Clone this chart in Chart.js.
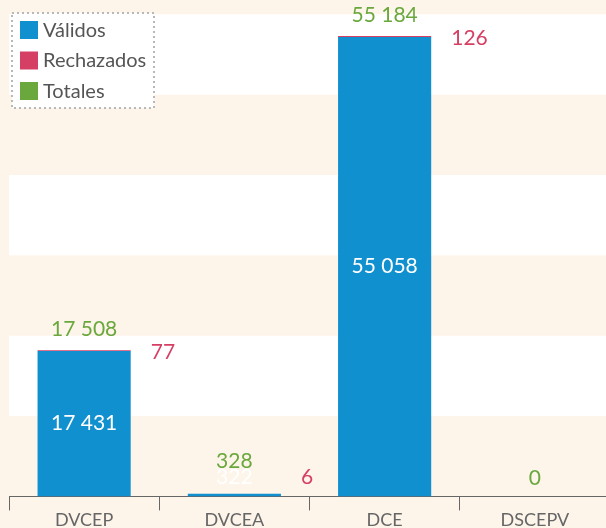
<!DOCTYPE html>
<html>
<head>
<meta charset="utf-8">
<script src="https://cdn.jsdelivr.net/npm/chart.js@4/dist/chart.umd.min.js"></script>
<style>
  html, body { margin: 0; padding: 0; overflow: hidden; background: #fdf4ea; }
  #wrap { width: 610px; height: 530px; }
</style>
</head>
<body>
<div id="wrap"><canvas id="myChart"></canvas></div>
<script>
var categories = ["DVCEP", "DVCEA", "DCE", "DSCEPV"];
var validos = [17431, 322, 55058, 0];
var rechazados = [77, 6, 126, 0];
var totales = [17508, 328, 55184, 0];

var BLUE = '#1190d0';
var RED = '#d63f64';
var GREEN = '#6aa83d';
var BEIGE = '#fdf4ea';
var FONT = 'Lato, "Noto Sans", sans-serif';

function fmt(v) {
  return String(v).replace(/\B(?=(\d{3})+(?!\d))/g, ' ');
}

// background stripes + custom legend + value labels
var decor = {
  id: 'decor',
  beforeDraw: function (chart) {
    var c = chart.ctx, a = chart.chartArea;
    c.save();
    c.fillStyle = BEIGE;
    c.fillRect(0, 0, chart.width, chart.height);
    var bandH = 80.35;
    c.fillStyle = '#ffffff';
    for (var i = 1; i < 7; i += 2) {
      var yb = a.bottom - i * bandH;
      c.fillRect(a.left, yb - bandH, chart.width - a.left, bandH);
    }
    c.restore();
  },
  afterDatasetsDraw: function (chart) {
    var c = chart.ctx;
    var mV = chart.getDatasetMeta(0), mR = chart.getDatasetMeta(1);
    var base = chart.scales.y.getPixelForValue(0);
    c.save();
    c.font = '21px ' + FONT;
    c.textBaseline = 'middle';
    for (var i = 0; i < categories.length; i++) {
      var bv = mV.data[i], br = mR.data[i];
      var x = bv.x;
      var top = chart.scales.y.getPixelForValue(totales[i]);
      var valY = null;
      if (validos[i] > 0) {
        valY = Math.min((bv.y + base) / 2, base - 19);
        c.fillStyle = '#ffffff';
        c.textAlign = 'center';
        c.fillText(fmt(validos[i]), x, valY);
      }
      if (rechazados[i] > 0) {
        c.fillStyle = RED;
        c.textAlign = 'left';
        c.fillText(fmt(rechazados[i]), x + bv.width / 2 + 20, Math.min(br.y + 2, base - 19));
      }
      var ty = valY === null ? base - 18 : Math.min(top - 21, valY - 16);
      c.fillStyle = GREEN;
      c.textAlign = 'center';
      c.fillText(fmt(totales[i]), x, ty);
    }

    // legend box
    var lx = 12, ly = 13, lw = 142, lh = 95;
    c.fillStyle = '#ffffff';
    c.fillRect(lx, ly, lw, lh);
    c.strokeStyle = '#b8b8b8';
    c.lineWidth = 2;
    c.setLineDash([2, 3]);
    c.strokeRect(lx, ly, lw, lh);
    c.setLineDash([]);
    var items = chart.data.datasets;
    c.font = '20px ' + FONT;
    c.textAlign = 'left';
    for (var k = 0; k < items.length; k++) {
      var sy = 21 + k * 30.5;
      c.fillStyle = items[k].legendColor;
      c.fillRect(20, sy, 18, 18);
      c.fillStyle = '#555555';
      c.fillText(items[k].label, 43, sy + 9.5);
    }
    c.restore();
  }
};

var ctx = document.getElementById("myChart");
var chart = new Chart(ctx, {
  type: 'bar',
  data: {
    labels: categories,
    datasets: [{
      label: 'Válidos',
      data: validos,
      backgroundColor: BLUE,
      legendColor: BLUE,
      stack: 's'
    }, {
      label: 'Rechazados',
      data: rechazados,
      backgroundColor: RED,
      legendColor: RED,
      stack: 's'
    }, {
      type: 'line',
      label: 'Totales',
      data: totales,
      showLine: false,
      pointRadius: 0,
      legendColor: GREEN
    }]
  },
  options: {
    responsive: true,
    maintainAspectRatio: false,
    animation: false,
    layout: { padding: { left: 9, top: 0, right: 0, bottom: 0 } },
    datasets: { bar: { barPercentage: 0.62, categoryPercentage: 1 } },
    plugins: { legend: { display: false }, tooltip: { enabled: false } },
    scales: {
      x: {
        stacked: true,
        offset: true,
        grid: { offset: true, drawOnChartArea: false, drawTicks: true, tickLength: 14, color: '#666666' },
        border: { display: true, color: '#666666', width: 1 },
        ticks: { color: '#666666', padding: -1, font: { family: FONT, size: 18 } }
      },
      y: {
        stacked: true,
        display: false,
        min: 0,
        max: 59500
      }
    }
  },
  plugins: [decor]
});
</script>
</body>
</html>
